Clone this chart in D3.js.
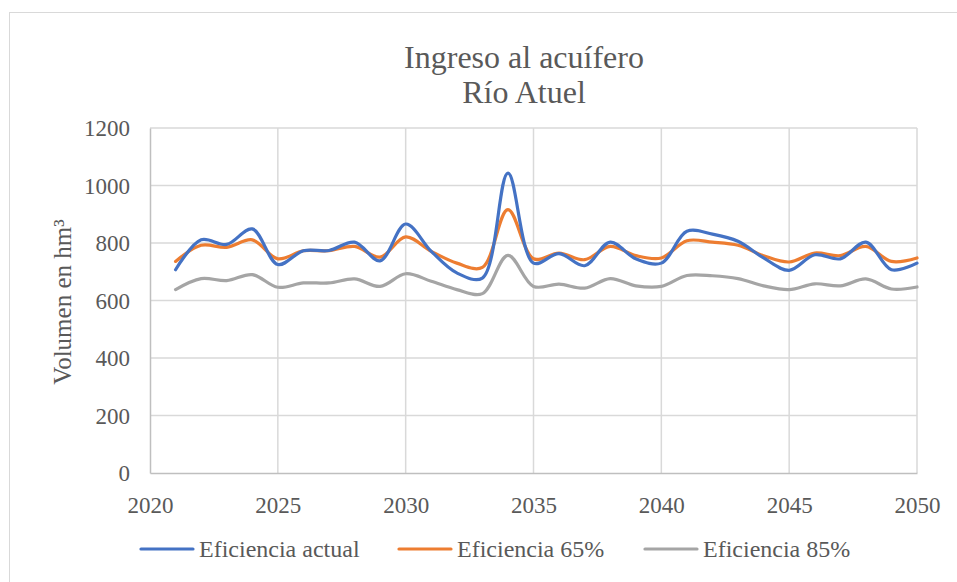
<!DOCTYPE html>
<html>
<head>
<meta charset="utf-8">
<script src="https://cdn.jsdelivr.net/npm/d3@7"></script>
<style>
  html, body { margin: 0; padding: 0; background: #fff; }
  svg { display: block; }
  svg text { font-family: 'Liberation Serif', 'Times New Roman', Times, serif !important; fill: #595959; }
</style>
</head>
<body>
<svg id="chart" width="957" height="582"></svg>
<script>
const years = [2021,2022,2023,2024,2025,2026,2027,2028,2029,2030,2031,2032,2033,2034,2035,2036,2037,2038,2039,2040,2041,2042,2043,2044,2045,2046,2047,2048,2049,2050];
const actual = [707,811,795,849,725,773,774,803,738,866,771,696,678,1043,730,763,721,803,745,730,841,831,806,748,705,759,745,803,707,730];
const ef65 = [736,792,785,811,745,773,773,788,751,821,771,730,715,916,745,765,742,788,756,748,808,803,792,756,734,765,756,788,736,748];
const ef85 = [638,676,669,690,646,661,661,675,649,693,667,638,624,757,649,657,643,676,651,649,687,686,676,651,638,658,651,675,640,647];
const seriesNames = ["Eficiencia actual", "Eficiencia 65%", "Eficiencia 85%"];
const seriesColors = ["#4472C4", "#ED7D31", "#A5A5A5"];
const xTicks = [2020,2025,2030,2035,2040,2045,2050];
const yTicks = [0,200,400,600,800,1000,1200];
const titleLines = ["Ingreso al acuífero", "Río Atuel"];
const yTitle = "Volumen en hm³";

const svg = d3.select("#chart");
const pLeft = 150, pRight = 917, pTop = 128, pBottom = 473;

// outer frame
svg.append("rect").attr("x", 9.5).attr("y", 12.5).attr("width", 970).attr("height", 620)
  .attr("fill", "none").attr("stroke", "#d9d9d9").attr("stroke-width", 1);

const x = d3.scaleLinear().domain([2020, 2050]).range([pLeft, pRight]);
const y = d3.scaleLinear().domain([0, 1200]).range([pBottom, pTop]);

// gridlines
const g = svg.append("g");
g.selectAll(".hg").data(yTicks.filter(d => d > 0)).join("line")
  .attr("x1", pLeft).attr("x2", pRight).attr("y1", d => y(d)).attr("y2", d => y(d))
  .attr("stroke", "#d9d9d9").attr("stroke-width", 1.5);
g.selectAll(".vg").data(xTicks.filter(d => d > 2020)).join("line")
  .attr("x1", d => x(d)).attr("x2", d => x(d)).attr("y1", pTop).attr("y2", pBottom)
  .attr("stroke", "#d9d9d9").attr("stroke-width", 1.5);

// axes
const xAxis = svg.append("g").attr("transform", `translate(0,${pBottom})`)
  .call(d3.axisBottom(x).tickValues(xTicks).tickFormat(d3.format("d")).tickSize(0).tickPadding(0));
xAxis.attr("font-family", null).attr("font-size", null);
xAxis.select(".domain").attr("stroke", "#bfbfbf").attr("stroke-width", 1.5);
xAxis.selectAll("text").attr("dy", null).attr("y", 40).style("font-size", "23px").attr("fill", "#595959");

const yAxis = svg.append("g").attr("transform", `translate(${pLeft},0)`)
  .call(d3.axisLeft(y).tickValues(yTicks).tickFormat(d3.format("d")).tickSize(0).tickPadding(0));
yAxis.attr("font-family", null).attr("font-size", null);
yAxis.select(".domain").attr("stroke", "#bfbfbf").attr("stroke-width", 1.5);
yAxis.selectAll("text").attr("x", -20).attr("dy", "0.34em").style("font-size", "23px").attr("fill", "#595959");

// lines
const data = [actual, ef65, ef85];
const line = d3.line().x((d, i) => x(years[i])).y(d => y(d)).curve(d3.curveCatmullRom.alpha(0.5));
svg.append("g").selectAll("path").data(data.slice().reverse()).join("path")
  .attr("d", d => line(d))
  .attr("fill", "none")
  .attr("stroke", (d, i) => seriesColors[2 - i])
  .attr("stroke-width", 3.2)
  .attr("stroke-linecap", "round")
  .attr("stroke-linejoin", "round");

// title
svg.append("g").selectAll("text").data(titleLines).join("text")
  .attr("x", 524).attr("y", (d, i) => 68 + i * 35)
  .attr("text-anchor", "middle").style("font-size", "32px").text(d => d);

// y title
svg.append("text").attr("transform", "translate(71,302) rotate(-90)")
  .attr("text-anchor", "middle").style("font-size", "25px").text(yTitle);

// legend
const legendX = [141, 399, 645];
const lg = svg.append("g").selectAll("g").data(seriesNames).join("g")
  .attr("transform", (d, i) => `translate(${legendX[i]},549)`);
lg.append("line").attr("x1", 0).attr("x2", 52).attr("y1", 0).attr("y2", 0)
  .attr("stroke", (d, i) => seriesColors[i]).attr("stroke-width", 3.2).attr("stroke-linecap", "round");
lg.append("text").attr("x", 58).attr("y", 8).style("font-size", "24px").text(d => d);
</script>
</body>
</html>
